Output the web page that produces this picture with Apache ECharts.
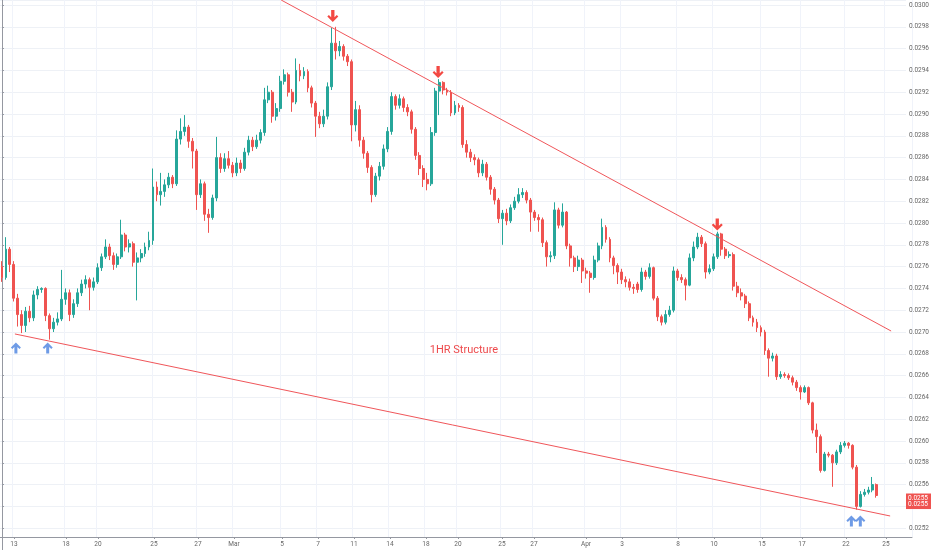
<!DOCTYPE html>
<html><head><meta charset="utf-8">
<script src="https://cdn.jsdelivr.net/npm/echarts@6/dist/echarts.min.js"></script>
<style>html,body{margin:0;padding:0;background:#fff}#c{width:932px;height:550px}</style>
</head><body><div id="c"></div>
<script>
// prices in units of 0.0001
const SLOTS = 228;
const Y_MIN = 250, Y_MAX = 300.46;
const tickIdx = [3,16,24,38,49,58,70,79,88,97,106,114,125,133,146,155,169,178,190,200,211,221];
const tickText = ['13','18','20','25','27','Mar','5','7','11','14','18','20','25','27','Apr','3','8','10','15','17','22','25'];
// [open, close, low, high]
const candles = [
[276.0,275.0,274.6,276.5],[275.0,277.6,274.8,278.7],[277.6,276.2,275.5,277.8],[276.2,273.1,272.8,276.5],
[273.1,271.6,270.5,273.5],[271.6,270.6,269.9,272.0],[270.6,271.9,270.0,272.3],[271.9,271.3,270.9,272.4],
[271.3,273.4,271.0,273.8],[273.4,273.9,273.0,274.2],[273.9,274.0,273.6,274.1],[274.0,271.5,271.0,274.1],
[271.5,270.3,269.3,271.7],[270.3,270.9,270.0,271.3],[270.9,271.2,270.6,271.8],[271.2,273.0,271.0,275.7],
[273.0,273.6,272.5,274.0],[273.6,271.6,271.0,273.9],[271.6,272.6,271.3,273.0],[272.6,273.6,272.3,274.0],
[273.6,274.4,273.3,274.8],[274.4,274.8,274.0,275.2],[274.8,274.1,272.0,275.0],[274.1,274.6,273.8,275.0],
[274.6,275.9,274.4,276.3],[275.9,276.9,275.6,277.2],[276.9,277.8,276.7,278.5],[277.8,277.0,276.6,278.1],
[277.0,276.2,275.7,277.3],[276.2,276.9,275.9,277.2],[276.9,278.9,276.7,280.3],[278.9,277.8,277.4,279.1],
[277.8,278.1,277.3,278.5],[278.1,276.4,276.0,278.3],[276.4,276.8,272.9,277.3],[276.8,277.2,276.4,277.6],
[277.2,277.8,276.9,278.2],[277.8,278.4,277.5,279.2],[278.4,283.3,278.0,285.0],[283.3,282.6,282.0,283.8],
[282.6,282.9,281.6,284.6],[282.9,283.5,282.4,284.0],[283.5,284.2,283.2,284.6],[284.2,283.6,283.2,284.4],
[283.6,287.7,283.4,288.5],[287.7,288.4,287.2,289.6],[288.4,288.8,288.0,289.9],[288.8,287.5,286.9,289.0],
[287.5,286.6,285.0,287.8],[286.6,282.6,281.2,286.8],[282.6,283.6,282.3,284.0],[283.6,280.8,280.2,283.8],
[280.8,280.5,279.1,281.3],[280.5,282.3,280.3,282.6],[282.3,286.0,282.0,287.9],[286.0,285.0,284.6,286.4],
[285.0,285.9,284.7,286.4],[285.9,285.3,285.0,286.6],[285.3,284.6,284.2,285.6],[284.6,285.5,284.3,286.0],
[285.5,285.0,284.6,285.8],[285.0,286.5,284.8,286.9],[286.5,287.6,286.2,288.0],[287.6,287.0,286.6,287.9],
[287.0,287.6,286.8,288.1],[287.6,288.3,287.3,288.6],[288.3,291.3,288.0,292.4],[291.3,292.0,291.0,292.6],
[292.0,289.8,289.2,292.2],[289.8,290.5,289.4,291.0],[290.5,293.0,290.2,293.5],[293.0,293.6,292.7,294.1],
[293.6,292.0,291.6,293.8],[292.0,291.1,290.2,292.3],[291.1,294.0,290.9,295.1],[294.0,293.5,293.0,294.6],
[293.5,293.9,293.2,294.3],[293.9,292.4,292.0,294.1],[292.4,291.0,290.6,292.6],[291.0,289.8,287.9,291.2],
[289.8,289.1,288.7,290.2],[289.1,289.8,288.8,290.4],[289.8,292.5,289.5,292.9],[292.5,296.5,292.2,297.9],
[296.5,295.8,295.0,298.0],[295.8,296.2,295.3,296.7],[296.2,295.3,294.9,296.4],[295.3,294.8,294.4,295.5],
[294.8,289.0,287.5,295.0],[289.0,290.4,288.4,291.2],[290.4,287.6,287.0,290.8],[287.6,286.4,285.9,287.9],
[286.4,285.1,284.6,286.6],[285.1,282.6,281.9,285.3],[282.6,284.3,282.4,284.6],[284.3,285.2,283.9,285.6],
[285.2,286.8,284.9,287.2],[286.8,288.4,286.5,288.8],[288.4,291.6,288.1,292.0],[291.6,290.8,290.4,291.8],
[290.8,291.4,290.5,291.8],[291.4,290.6,290.2,291.6],[290.6,290.2,289.8,290.9],[290.2,288.6,288.2,290.4],
[288.6,286.2,285.8,288.8],[286.2,285.0,284.4,286.5],[285.0,284.0,283.3,285.3],[284.0,283.6,283.0,284.6],
[283.6,288.3,283.4,288.8],[288.3,292.1,288.0,292.4],[292.1,292.9,289.9,293.2],[292.9,292.2,291.8,293.0],
[292.2,292.0,291.7,292.4],[292.0,290.1,289.8,292.2],[290.1,290.8,289.9,291.2],[290.8,290.6,290.2,291.0],
[290.6,287.2,286.9,290.8],[287.2,286.5,286.0,287.6],[286.5,286.0,285.6,286.8],[286.0,285.8,285.3,286.3],
[285.8,284.6,284.2,286.0],[284.6,285.4,284.3,285.8],[285.4,284.2,283.9,285.6],[284.2,283.1,282.6,284.4],
[283.1,282.1,281.7,283.3],[282.1,280.4,280.0,282.3],[280.4,280.9,278.0,281.2],[280.9,280.2,279.8,281.3],
[280.2,281.4,280.0,281.7],[281.4,282.0,281.2,282.4],[282.0,282.6,281.8,283.2],[282.6,282.8,282.3,283.2],
[282.8,282.1,281.8,283.0],[282.1,281.0,279.2,282.3],[281.0,280.5,280.2,281.2],[280.5,280.3,279.2,280.8],
[280.3,278.2,277.8,280.5],[278.2,276.9,276.0,278.4],[276.9,277.0,276.4,277.4],[277.0,281.2,276.7,281.9],
[281.2,279.8,279.5,281.4],[279.8,281.0,279.6,281.8],[281.0,277.9,277.6,281.1],[277.9,276.8,276.0,278.1],
[276.8,276.0,275.5,277.0],[276.0,276.6,275.6,277.0],[276.6,275.6,274.5,276.8],[275.6,275.4,274.9,275.9],
[275.4,275.0,273.6,275.6],[275.0,276.6,274.8,277.0],[276.6,277.9,276.4,278.2],[277.9,279.6,277.6,280.4],
[279.6,278.5,278.2,279.8],[278.5,276.8,276.4,278.7],[276.8,276.1,275.3,277.0],[276.1,275.5,274.4,276.3],
[275.5,274.8,274.4,275.8],[274.8,274.6,274.1,275.1],[274.6,274.1,273.8,274.9],[274.1,274.0,273.5,274.4],
[274.4,273.9,273.6,274.6],[273.9,275.5,273.7,275.9],[275.5,275.1,274.8,275.7],[275.1,275.9,274.9,276.3],
[275.9,273.1,272.9,276.0],[273.1,271.4,271.0,273.3],[271.4,270.9,270.6,271.6],[270.9,271.6,270.7,272.0],
[271.6,272.0,271.4,272.4],[272.0,275.6,271.8,276.0],[275.6,275.0,274.7,275.8],[275.0,274.8,274.5,275.3],
[274.8,274.3,272.9,275.0],[274.3,276.8,274.2,277.2],[276.8,277.8,276.5,278.3],[277.8,278.7,277.6,279.1],
[278.7,278.1,277.8,278.9],[278.1,275.5,274.9,278.3],[275.5,275.8,275.3,276.2],[275.8,276.9,275.6,277.2],
[276.9,279.0,276.7,279.2],[279.0,277.6,277.0,279.1],[277.6,277.0,276.7,277.8],[277.0,277.1,276.8,277.4],
[277.1,274.2,273.8,277.3],[274.2,273.6,273.2,274.6],[273.6,273.3,272.9,274.0],[273.3,272.6,272.2,273.5],
[272.6,271.3,271.0,272.8],[271.3,270.9,270.5,271.5],[270.9,270.4,270.0,271.2],[270.4,270.0,269.6,270.6],
[270.0,268.3,267.9,270.2],[268.3,267.6,265.9,268.5],[267.6,267.8,267.3,268.1],[267.8,265.9,265.6,268.0],
[265.9,266.1,265.7,266.4],[266.1,266.0,265.8,266.3],[266.0,265.8,265.6,266.2],[265.8,265.4,265.1,266.0],
[265.4,264.9,264.6,265.6],[264.9,264.5,263.8,265.1],[264.5,264.9,264.4,265.1],[264.9,263.5,263.3,265.0],
[263.5,261.0,260.7,263.6],[261.0,260.4,258.9,261.6],[260.4,257.3,257.1,260.6],[257.3,258.8,257.2,259.0],
[258.8,258.7,258.5,259.0],[258.7,258.0,255.8,258.8],[258.0,259.0,257.8,259.2],[259.0,259.6,258.8,259.9],
[259.6,259.8,259.4,260.0],[259.8,259.6,259.3,259.9],[259.6,257.6,257.4,259.7],[257.6,254.0,253.7,257.8],
[254.0,255.1,253.9,255.4],[255.1,255.3,254.9,255.6],[255.3,255.5,255.1,255.8],[255.5,256.0,255.3,256.7],
[256.0,255.0,254.8,256.1]
];
const upperTrend = [[70.25,300.46],[223.75,270.09]];
const lowerTrend = [[3.25,269.82],[223.5,253.12]];
const downArrows = [[83.25,298.99],[109.75,293.85],[180,279.86]];
const upArrows = [[3.5,268.53],[11.5,268.53],[213.75,252.66],[216,252.66]];
const notePos = [[116.25,268.3]];
const noteText = '1HR Structure';
const priceTags = [254.77, 254.17];
const priceTagText = ['0.0255','0.0255'];

const categories = Array.from({length: SLOTS}, (_, i) => i);
const isTick = (idx) => tickIdx.indexOf(idx) >= 0;
const UP = '#26a69a', DOWN = '#ef5350';
const downPath = 'path://M3.5,0 L6.5,0 L6.5,6.5 L8.6,4.4 L10,5.8 L5,10.8 L0,5.8 L1.4,4.4 L3.5,6.5 Z';
const upPath = 'path://M3.5,12 L6.5,12 L6.5,5.5 L8.6,7.6 L10,6.2 L5,1.2 L0,6.2 L1.4,7.6 L3.5,5.5 Z';

const chart = echarts.init(document.getElementById('c'), null, {renderer: 'canvas'});
chart.setOption({
  animation: false,
  backgroundColor: '#ffffff',
  grid: [
    {left: 0, right: 20, top: 0, bottom: 0},
    {left: 0, right: 20, top: 0, bottom: 13}
  ],
  xAxis: [
    {type: 'category', gridIndex: 0, data: categories, boundaryGap: true, show: false},
    {type: 'value', gridIndex: 0, min: -0.5, max: SLOTS - 0.5, show: false},
    {type: 'category', gridIndex: 1, data: categories, boundaryGap: true, position: 'bottom',
      axisLine: {show: true, lineStyle: {color: '#9598a1', width: 1}},
      axisTick: {show: true, alignWithLabel: true, interval: isTick, length: 2, lineStyle: {color: '#9598a1'}},
      axisLabel: {interval: isTick, margin: 4, fontSize: 6.5, color: '#666', fontFamily: 'Roboto',
        formatter: (v, idx) => { const k = tickIdx.indexOf(Number(v)); return k < 0 ? '' : tickText[k]; }},
      splitLine: {show: true, interval: isTick, lineStyle: {color: '#f0f3fa', width: 1}}
    }
  ],
  yAxis: [
    {type: 'value', gridIndex: 0, position: 'right', min: Y_MIN, max: Y_MAX, interval: 2,
      axisLine: {show: true, lineStyle: {color: '#9598a1', width: 1}},
      axisTick: {show: true, length: 2, lineStyle: {color: '#9598a1'}},
      axisLabel: {show: true, margin: 3, fontSize: 6.5, color: '#666', fontFamily: 'Roboto',
        showMinLabel: false, showMaxLabel: false,
        formatter: (v) => (v / 10000).toFixed(4)},
      splitLine: {show: true, lineStyle: {color: '#eef1f6', width: 1}}
    },
    {type: 'value', gridIndex: 1, show: false, min: 0, max: 1}
  ],
  series: [
    {type: 'candlestick', xAxisIndex: 0, yAxisIndex: 0, data: candles, barWidth: 2.4,
      itemStyle: {color: UP, color0: DOWN, borderColor: UP, borderColor0: DOWN, borderWidth: 1},
      markLine: {silent: true, symbol: 'none',
        lineStyle: {color: 'rgba(0,0,0,0)', width: 0.5, type: 'solid'},
        data: priceTags.map((v, k) => ({yAxis: v, label: {formatter: priceTagText[k]}})),
        label: {show: true, position: 'end', distance: 0, color: '#fff', backgroundColor: DOWN,
          fontSize: 6.5, fontFamily: 'Roboto', padding: [1, 3, 1, 2]}
      }
    },
    {type: 'line', xAxisIndex: 1, yAxisIndex: 0, data: upperTrend, symbol: 'none',
      lineStyle: {color: '#f0565a', width: 1}, silent: true, z: 3},
    {type: 'line', xAxisIndex: 1, yAxisIndex: 0, data: lowerTrend, symbol: 'none',
      lineStyle: {color: '#f0565a', width: 1}, silent: true, z: 3},
    {type: 'scatter', xAxisIndex: 1, yAxisIndex: 0, data: downArrows, symbol: downPath,
      symbolSize: [11, 12], itemStyle: {color: '#f01b14'}, silent: true, z: 5},
    {type: 'scatter', xAxisIndex: 1, yAxisIndex: 0, data: upArrows, symbol: upPath,
      symbolSize: [10, 11], itemStyle: {color: '#4a82e0'}, silent: true, z: 5},
    {type: 'scatter', xAxisIndex: 1, yAxisIndex: 0, data: notePos, symbol: 'circle', symbolSize: 1,
      itemStyle: {color: 'rgba(0,0,0,0)'}, silent: true, z: 6,
      label: {show: true, position: 'inside', formatter: noteText, color: '#e8191c',
        fontSize: 11, fontFamily: 'Roboto'}}
  ]
});
</script></body></html>
